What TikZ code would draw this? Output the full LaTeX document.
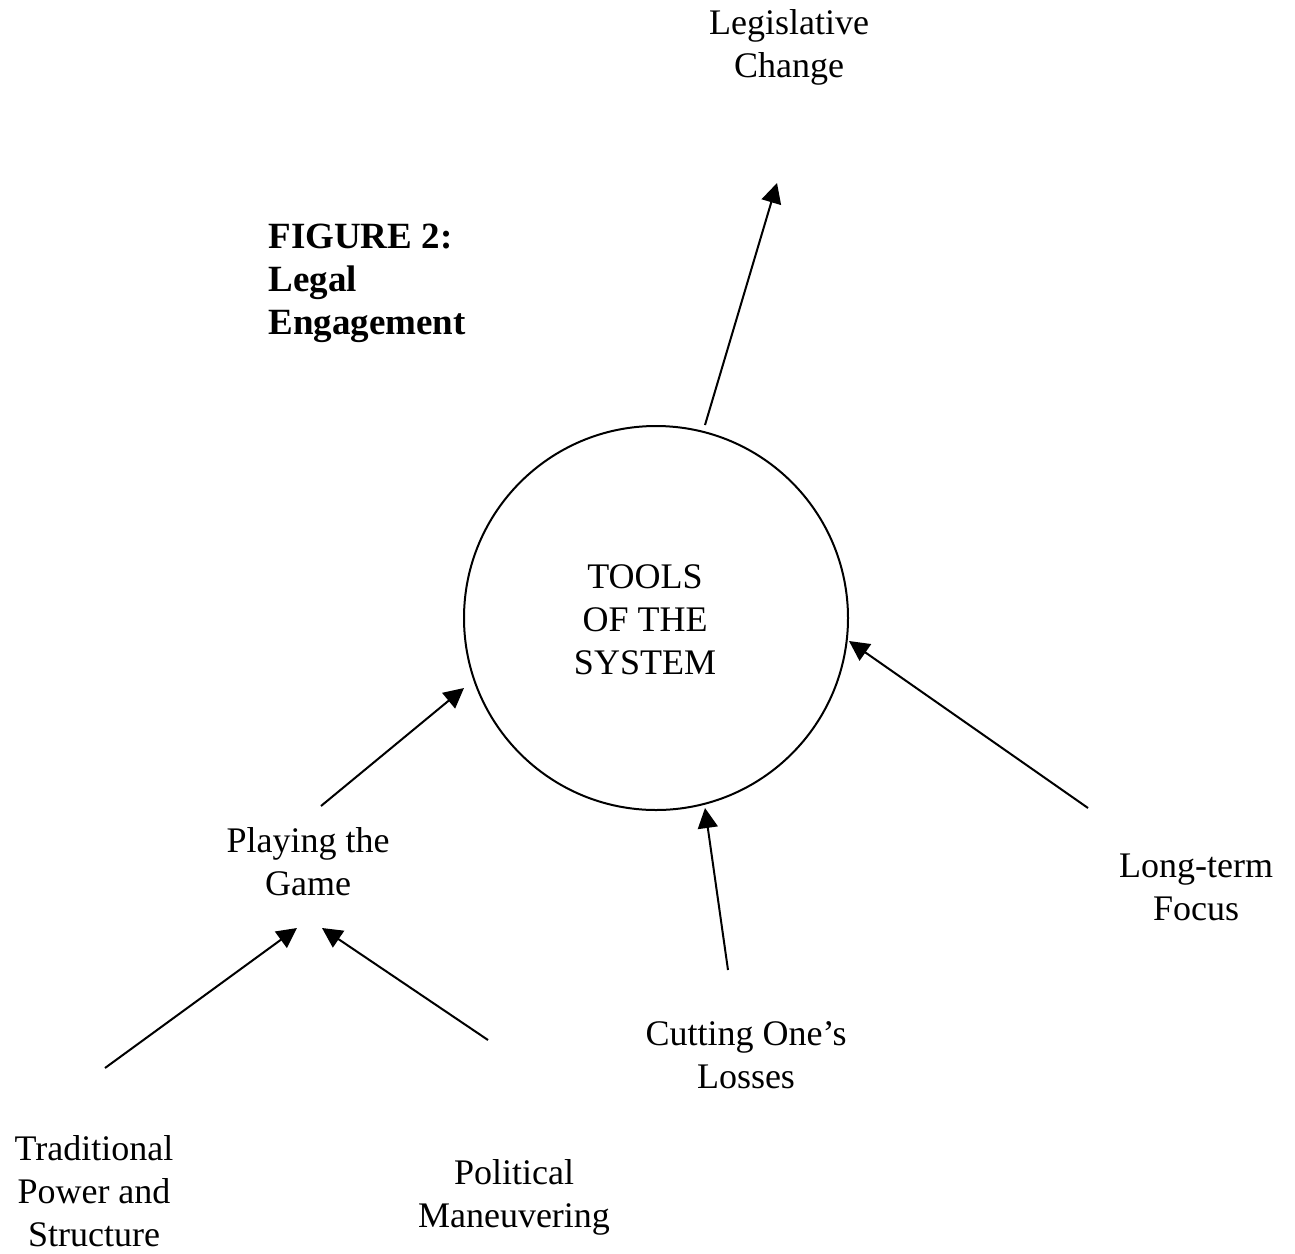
\documentclass[tikz,border=0pt]{standalone}
\usepackage{fontspec}
\setmainfont{Liberation Serif}
\usetikzlibrary{arrows.meta}
\begin{document}
\begin{tikzpicture}[x=0.5pt,y=-0.5pt,
  lbl/.style={align=center, font=\fontsize{18}{21.5}\selectfont, inner sep=0pt},
  arr/.style={-{Triangle[length=10pt,width=10pt]}, line width=1pt}]
\useasboundingbox (0,0) rectangle (1295,1253);

% central circle
\node[draw, circle, line width=1pt, minimum size=192pt, inner sep=0pt] (circ) at (656,618) {};
\node[lbl] (tools) at (645,620) {TOOLS\\OF THE\\SYSTEM};

% title
\node[lbl, anchor=west, align=left, font=\fontsize{18.5}{21.5}\selectfont\bfseries] (title) at (268,283)
  {FIGURE 2:\\Legal\\Engagement};

% surrounding labels
\node[lbl] (leg)  at (789,47)   {Legislative\\Change};
\node[lbl] (play) at (308,862)  {Playing the\\Game};
\node[lbl] (long) at (1196,887) {Long-term\\Focus};
\node[lbl] (cut)  at (746,1055) {Cutting One’s\\Losses};
\node[lbl] (trad) at (94,1191)  {Traditional\\Power and\\Structure};
\node[lbl] (pol)  at (514,1197) {Political\\Maneuvering};

% connector end points
\coordinate (leg-s)  at (705,425);  \coordinate (leg-e)  at (777,183);
\coordinate (play-s) at (321,806);  \coordinate (play-e) at (464,688);
\coordinate (long-s) at (1088,808); \coordinate (long-e) at (849,641);
\coordinate (cut-s)  at (728,970);  \coordinate (cut-e)  at (705,808);
\coordinate (trad-s) at (105,1068); \coordinate (trad-e) at (297,928);
\coordinate (pol-s)  at (488,1040); \coordinate (pol-e)  at (322,928);

\draw[arr] (leg-s)  -- (leg-e);
\draw[arr] (play-s) -- (play-e);
\draw[arr] (long-s) -- (long-e);
\draw[arr] (cut-s)  -- (cut-e);
\draw[arr] (trad-s) -- (trad-e);
\draw[arr] (pol-s)  -- (pol-e);
\end{tikzpicture}
\end{document}
